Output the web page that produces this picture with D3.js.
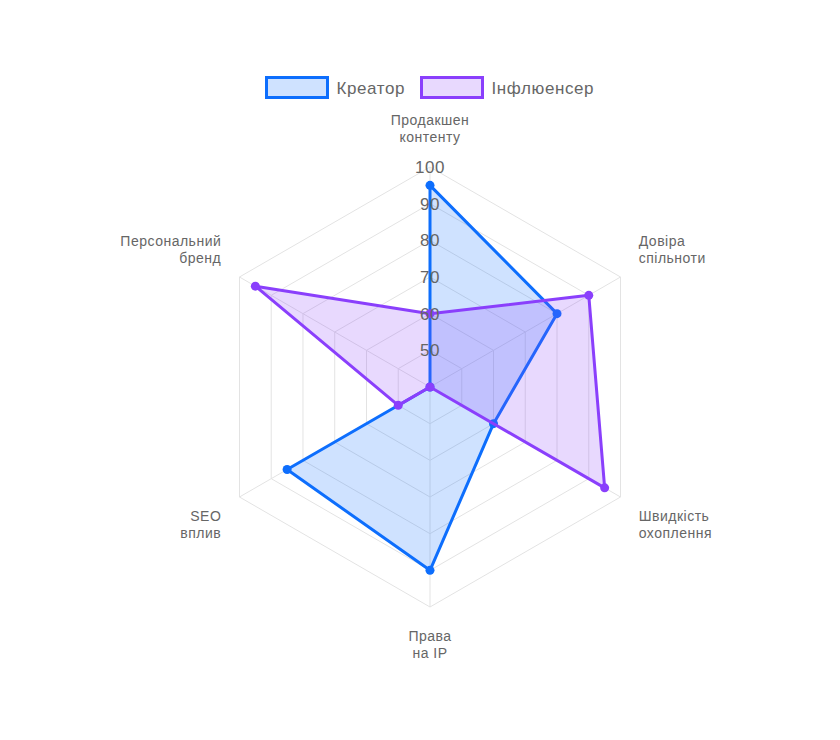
<!DOCTYPE html>
<html>
<head>
<meta charset="utf-8">
<script src="https://cdn.jsdelivr.net/npm/d3@7"></script>
<style>
  body { margin: 0; background: #fff; }
  svg { font-family: "Liberation Sans", Arial, Helvetica, sans-serif; }
</style>
</head>
<body>
<svg id="chart" width="840" height="740"></svg>
<script>
// axes, clockwise from the top
const axes = [
    ["Продакшен", "контенту"],
    ["Довіра", "спільноти"],
    ["Швидкість", "охоплення"],
    ["Права", "на IP"],
    ["SEO", "вплив"],
    ["Персональний", "бренд"]
];
const seriesNames = ["Креатор", "Інфлюенсер"];
const creatorValues = [95, 80, 60, 90, 85, 40];
const influencerValues = [60, 90, 95, 40, 50, 95];
const tickValues = [50, 60, 70, 80, 90, 100];

const colors = ["#0d6efd", "#8a3ffc"];
const fills = ["rgba(13,110,253,0.2)", "rgba(138,63,252,0.2)"];

const svg = d3.select("#chart");
const cx = 430, cy = 387, radius = 220;

const r = d3.scaleLinear().domain([40, 100]).range([0, radius]);
const angle = d3.scaleLinear().domain([0, axes.length]).range([0, 2 * Math.PI]);

// point at axis i, distance d from centre
const pos = (i, d) => [cx + d * Math.sin(angle(i)), cy - d * Math.cos(angle(i))];

// grid rings
const grid = svg.append("g").attr("class", "grid");
grid.selectAll("polygon")
    .data(tickValues)
    .enter()
    .append("polygon")
    .attr("points", t => axes.map((a, i) => pos(i, r(t)).join(",")).join(" "))
    .attr("fill", "none")
    .attr("stroke", "#e3e3e3")
    .attr("stroke-width", 1);

// spokes
grid.selectAll("line")
    .data(axes)
    .enter()
    .append("line")
    .attr("x1", cx).attr("y1", cy)
    .attr("x2", (d, i) => pos(i, radius)[0])
    .attr("y2", (d, i) => pos(i, radius)[1])
    .attr("stroke", "#e3e3e3")
    .attr("stroke-width", 1);

// datasets
const series = [creatorValues, influencerValues];
const line = d3.lineRadial()
    .angle((d, i) => angle(i))
    .radius(d => r(d))
    .curve(d3.curveLinearClosed);

const sets = svg.append("g")
    .attr("transform", `translate(${cx},${cy})`)
    .selectAll("g")
    .data(series)
    .enter()
    .append("g");

sets.append("path")
    .attr("d", d => line(d))
    .attr("fill", (d, k) => fills[k])
    .attr("stroke", (d, k) => colors[k])
    .attr("stroke-width", 3)
    .attr("stroke-linejoin", "round");

sets.each(function(values, k) {
    d3.select(this).selectAll("circle")
        .data(values)
        .enter()
        .append("circle")
        .attr("cx", (v, i) => pos(i, r(v))[0] - cx)
        .attr("cy", (v, i) => pos(i, r(v))[1] - cy)
        .attr("r", 4.5)
        .attr("fill", colors[k]);
});

// tick labels
svg.append("g").selectAll("text")
    .data(tickValues)
    .enter()
    .append("text")
    .attr("x", cx)
    .attr("y", t => cy - r(t))
    .attr("dy", "0.36em")
    .attr("text-anchor", "middle")
    .attr("font-size", 17)
    .attr("letter-spacing", 0.6)
    .attr("fill", "#666")
    .text(t => t);

// axis labels
const lineH = 17;
const labels = svg.append("g").selectAll("text")
    .data(axes)
    .enter()
    .append("text")
    .attr("font-size", 14)
    .attr("letter-spacing", 0.5)
    .attr("fill", "#666")
    .attr("text-anchor", (d, i) => {
        const s = Math.sin(angle(i));
        return Math.abs(s) < 0.01 ? "middle" : (s > 0 ? "start" : "end");
    })
    .each(function(d, i) {
        const [x, y] = pos(i, 241);
        const c = Math.cos(angle(i));
        // top of the text block
        let top;
        if (Math.abs(c) < 0.01) top = y - d.length * lineH / 2;
        else if (c > 0) top = y - d.length * lineH;
        else top = y;
        d3.select(this).selectAll("tspan")
            .data(d)
            .enter()
            .append("tspan")
            .attr("x", x)
            .attr("y", (t, j) => top + 13 + j * lineH)
            .text(t => t);
    });

// legend
const legend = svg.append("g").attr("class", "legend");
const legendX = [266.5, 421.5];
seriesNames.forEach((name, k) => {
    legend.append("rect")
        .attr("x", legendX[k])
        .attr("y", 77.5)
        .attr("width", 61)
        .attr("height", 20)
        .attr("fill", fills[k])
        .attr("stroke", colors[k])
        .attr("stroke-width", 3);
    legend.append("text")
        .attr("x", legendX[k] + 70)
        .attr("y", 93.5)
        .attr("font-size", 17)
        .attr("letter-spacing", 0.6)
        .attr("fill", "#666")
        .text(name);
});
</script>
</body>
</html>
